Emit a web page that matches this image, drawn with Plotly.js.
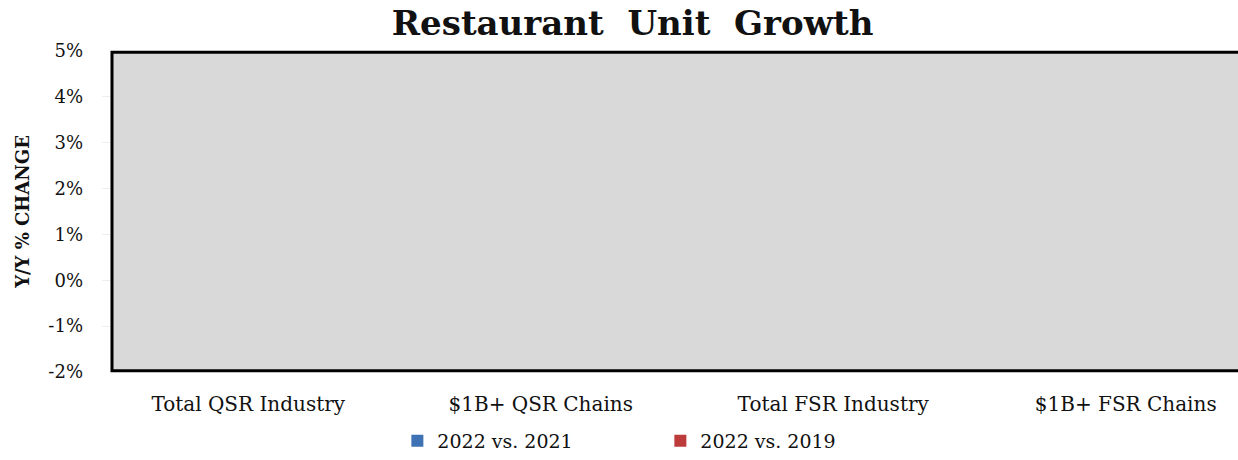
<!DOCTYPE html>
<html>
<head>
<meta charset="utf-8">
<script src="https://cdn.plot.ly/plotly-3.0.1.min.js"></script>
<style>
  html, body { margin: 0; padding: 0; background: #fff; overflow: hidden; }
  #chart { width: 1238px; height: 460px; }
</style>
</head>
<body>
<div id="chart"></div>
<script>
// Categories and series (bar values are hidden under the grey panel in the reference, so they cannot be read)
const categories = ["Total QSR Industry", "$1B+ QSR Chains", "Total FSR Industry", "$1B+ FSR Chains"];
const seriesNames = ["2022 vs. 2021", "2022 vs. 2019"];
const growth2022vs2021 = [null, null, null, null];
const growth2022vs2019 = [null, null, null, null];
const yTickValues = [-0.02, -0.01, 0, 0.01, 0.02, 0.03, 0.04, 0.05];
const yTickLabels = ["-2%", "-1%", "0%", "1%", "2%", "3%", "4%", "5%"];

const serif = "Georgia, 'DejaVu Serif', serif";

const traces = [
  { type: "bar", name: seriesNames[0], x: categories, y: growth2022vs2021,
    marker: { color: "#3f72b5" } },
  { type: "bar", name: seriesNames[1], x: categories, y: growth2022vs2019,
    marker: { color: "#be3b3b" } }
];

const layout = {
  width: 1238, height: 460,
  margin: { l: 102, r: 0, t: 51, b: 85 },
  paper_bgcolor: "#ffffff",
  plot_bgcolor: "#ffffff",
  title: { text: "<b>Restaurant  Unit  Growth</b>", x: 0.511, xref: "container", xanchor: "center",
           y: 0.95, yref: "container", yanchor: "middle",
           font: { family: serif, size: 34, color: "#111" } },
  xaxis: {
    type: "category", range: [-0.5, 3.384], showgrid: false, zeroline: false, showline: false,
    ticks: "", ticklabelstandoff: 18,
    tickfont: { family: serif, size: 20, color: "#111" }
  },
  yaxis: {
    range: [-0.02, 0.05], tickvals: yTickValues, ticktext: yTickLabels,
    showgrid: true, gridcolor: "#eeeeee", zeroline: false, showline: false,
    ticks: "", ticklabelstandoff: 18,
    tickfont: { family: serif, size: 18, color: "#111" },
    title: { text: "<b>Y/Y % CHANGE</b>", standoff: 14, font: { family: serif, size: 18, color: "#111" } }
  },
  barmode: "group",
  showlegend: true,
  legend: {
    orientation: "h", x: 0.26, xanchor: "left", y: -0.215, yanchor: "middle",
    entrywidth: 218, entrywidthmode: "pixels",
    font: { family: serif, size: 19, color: "#111" }
  },
  shapes: [{
    type: "rect", xref: "paper", yref: "paper",
    x0: 0.0088, x1: 1.02, y0: 0.004, y1: 0.996,
    fillcolor: "#d9d9d9", line: { color: "#000", width: 3 }, layer: "above"
  }]
};

Plotly.newPlot("chart", traces, layout, { displayModeBar: false, staticPlot: true });
</script>
</body>
</html>
